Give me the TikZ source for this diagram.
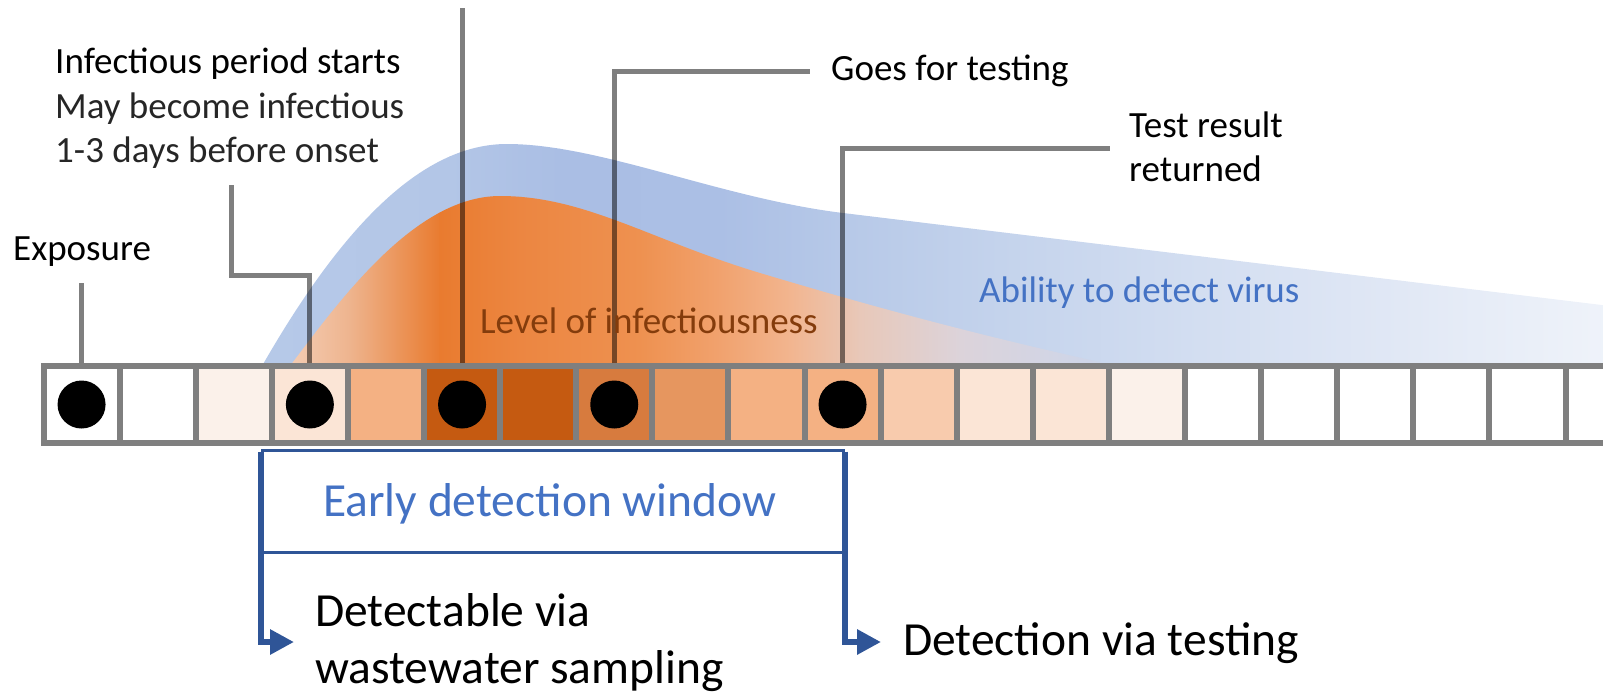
\documentclass[tikz,border=0pt]{standalone}
\usepackage{fontspec}
\setmainfont{Carlito}
\usetikzlibrary{arrows.meta}
\definecolor{gridgray}{HTML}{7F7F7F}
\definecolor{boxblue}{HTML}{2F5597}
\definecolor{txtblue}{HTML}{4472C4}
\definecolor{txtbrown}{HTML}{843C0C}
\definecolor{B1}{HTML}{B6C9E8}\definecolor{B2}{HTML}{B3C6E7}\definecolor{B3}{HTML}{AABEE4}
\definecolor{B4}{HTML}{ABBFE5}\definecolor{B5}{HTML}{B7C9E8}\definecolor{B6}{HTML}{C4D3EC}
\definecolor{B7}{HTML}{D3DEF1}\definecolor{B8}{HTML}{E1E8F5}\definecolor{B9}{HTML}{EFF3FA}
\definecolor{O1}{HTML}{F4CDB4}\definecolor{O2}{HTML}{EEB48E}\definecolor{O3}{HTML}{E97B2F}
\definecolor{O4}{HTML}{EC8641}\definecolor{O5}{HTML}{EE9150}\definecolor{O6}{HTML}{F1A26E}
\definecolor{O7}{HTML}{F2B58F}\definecolor{O8}{HTML}{E8C8B9}\definecolor{O9}{HTML}{DCD3DA}
\definecolor{O10}{HTML}{CBD6EC}
\definecolor{k3}{HTML}{FBF1EA}\definecolor{k4}{HTML}{FBE5D6}\definecolor{k5}{HTML}{F4B183}
\definecolor{k6}{HTML}{C55A11}\definecolor{k8}{HTML}{D77B3E}\definecolor{k9}{HTML}{E6965F}
\definecolor{k12}{HTML}{F8CBAD}
\newcommand\FontA{\fontsize{37}{44}\selectfont}
\newcommand\FontB{\fontsize{47.5}{57}\selectfont}
\begin{document}
\begin{tikzpicture}[x=1pt,y=-1pt,
  cellbox/.style={draw=gridgray, line width=6, minimum width=76.1, minimum height=77, inner sep=0, anchor=center},
  dotmark/.style={circle, fill=black, minimum size=48, inner sep=0},
  leader/.style={draw=black, draw opacity=0.5, line width=5},
  lbl/.style={anchor=base west, inner sep=0, font=\FontA},
  big/.style={anchor=base west, inner sep=0, font=\FontB},
  boxthin/.style={draw=boxblue, line width=3},
  boxthick/.style={draw=boxblue, line width=6, -{Triangle[length=24pt,width=24pt]}}]
\useasboundingbox (0,0) rectangle (1603,694);
% ability to detect virus (blue)
\begin{scope}
\clip (262,368) -- (262,366) .. controls (340,230) and (420,144) .. (507,144) .. controls (600,144) and (720,198) .. (843,213) -- (1610,306) -- (1610,368) -- cycle;
\foreach \xa/\xb/\ca/\cb in {261/450/B1/B2, 450/560/B2/B3, 560/720/B3/B4, 720/850/B4/B5, 850/1000/B5/B6, 1000/1200/B6/B7, 1200/1400/B7/B8, 1400/1610/B8/B9}
  {\shade[left color=\ca, right color=\cb] (\xa-0.5,100) rectangle (\xb+0.5,370);}
\end{scope}
% level of infectiousness (orange)
\begin{scope}
\clip (290,368) -- (290,366) .. controls (340,300) and (415,196) .. (500,196) .. controls (585,196) and (650,240) .. (760,273) .. controls (900,315) and (1000,340) .. (1117,366) -- (1117,368) -- cycle;
\foreach \xa/\xb/\ca/\cb in {289/350/O1/O2, 350/440/O2/O3, 440/520/O3/O4, 520/640/O4/O5, 640/720/O5/O6, 720/790/O6/O7, 790/860/O7/O8, 860/960/O8/O9, 960/1118/O9/O10}
  {\shade[left color=\ca, right color=\cb] (\xa-0.5,150) rectangle (\xb+0.5,370);}
\end{scope}
% timeline cells
\foreach \i/\c in {1/white,2/white,3/k3,4/k4,5/k5,6/k6,7/k6,8/k8,9/k9,10/k5,11/k5,12/k12,13/k4,14/k4,15/k3,16/white,17/white,18/white,19/white,20/white,21/white}
  {\node[cellbox, fill=\c] (c\i) at ({43.5+76.1*(\i-0.5)},404.5) {};}
% dots
\foreach \i in {1,4,6,8,11} {\node[dotmark] (d\i) at (c\i) {};}
% leader lines
\coordinate (infTop) at (231,185);
\coordinate (goesEnd) at (810,71);
\coordinate (testEnd) at (1110,148);
\draw[leader] (c1.north) -- ++(0,-80);
\draw[leader] (c4.north) -- ++(0,-88) -| (infTop);
\draw[leader] (c6.north) -- ++(0,-355);
\draw[leader] (c8.north) |- (goesEnd);
\draw[leader] (c11.north) |- (testEnd);
% labels
\node[lbl] (expo) at (13,260) {Exposure};
\node[lbl] (inf1) at (55,73) {Infectious period starts};
\node[lbl, text=black!85] (inf2) at (55,118) {May become infectious};
\node[lbl, text=black!85] (inf3) at (55,162) {1-3 days before onset};
\node[lbl] (goes) at (831,80) {Goes for testing};
\node[lbl] (test1) at (1129,137) {Test result};
\node[lbl] (test2) at (1129,181) {returned};
\node[lbl, text=txtbrown] (level) at (480,333) {Level of infectiousness};
\node[lbl, text=txtblue] (ability) at (979,302) {Ability to detect virus};
% early detection window
\coordinate (ewTL) at (261,450);
\coordinate (ewTR) at (845,450);
\coordinate (ewML) at (261,552);
\coordinate (ewMR) at (845,552);
\coordinate (ewBL) at (261,642);
\coordinate (ewBR) at (845,642);
\coordinate (tipL) at (294,642);
\coordinate (tipR) at (881,642);
\draw[boxthin] (ewTL) -- (ewTR);
\draw[boxthin] (ewML) -- (ewMR);
\draw[boxthick] ([yshift=-1.5]ewTL) -- (ewBL) -- (tipL);
\draw[boxthick] ([yshift=-1.5]ewTR) -- (ewBR) -- (tipR);
\node[big, text=txtblue] (early) at (323,516) {Early detection window};
\node[big] (det1) at (315,626) {Detectable via};
\node[big] (det2) at (315,683) {wastewater sampling};
\node[big] (dtest) at (903,655) {Detection via testing};
\end{tikzpicture}
\end{document}
